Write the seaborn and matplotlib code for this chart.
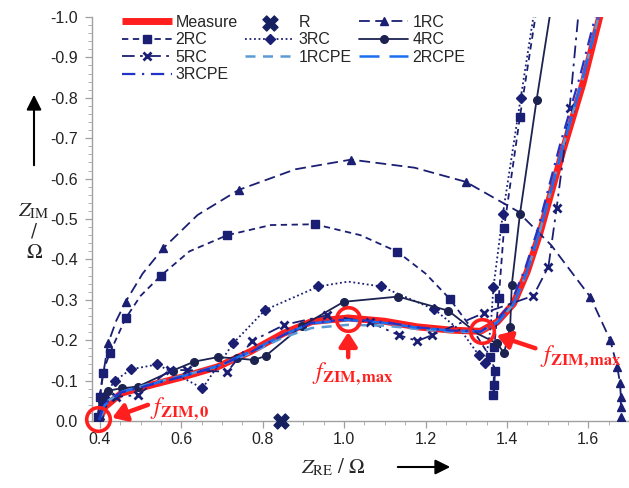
import matplotlib
matplotlib.use("Agg")
import matplotlib.pyplot as plt
import seaborn as sns

# ---------------- data ----------------
measure_x = [0.398, 0.412, 0.453, 0.526, 0.607, 0.689, 0.770, 0.851, 0.920, 1.010, 1.099,
             1.180, 1.262, 1.335, 1.376, 1.416, 1.450, 1.481, 1.538, 1.587, 1.628, 1.640]
measure_y = [-0.003, -0.035, -0.069, -0.089, -0.110, -0.134, -0.172, -0.217, -0.246, -0.255, -0.247,
             -0.233, -0.225, -0.222, -0.245, -0.290, -0.370, -0.465, -0.671, -0.836, -1.000, -1.040]

r_x = [0.845]
r_y = [0.0]

rc1_x = [0.395, 0.400, 0.420, 0.440, 0.463, 0.505, 0.556, 0.640, 0.741, 0.880, 1.017, 1.173, 1.299, 1.425,
         1.509, 1.605, 1.654, 1.671, 1.678, 1.680, 1.680, 1.680]
rc1_y = [-0.010, -0.064, -0.192, -0.248, -0.295, -0.365, -0.428, -0.510, -0.572, -0.623, -0.647, -0.627,
         -0.592, -0.520, -0.435, -0.307, -0.200, -0.134, -0.094, -0.059, -0.035, -0.010]
rc1_mark = [0, 1, 2, 4, 6, 8, 10, 12, 15, 16, 17, 18, 19, 20, 21]

rc2_x = [0.395, 0.400, 0.407, 0.424, 0.463, 0.500, 0.550, 0.620, 0.713, 0.820, 0.928, 1.040, 1.131, 1.200,
         1.259, 1.320, 1.359, 1.371, 1.369, 1.367, 1.369, 1.380, 1.393, 1.432, 1.470]
rc2_y = [-0.010, -0.060, -0.119, -0.168, -0.254, -0.310, -0.360, -0.420, -0.460, -0.485, -0.487, -0.460,
         -0.419, -0.365, -0.303, -0.220, -0.158, -0.125, -0.089, -0.064, -0.184, -0.305, -0.478, -0.753,
         -1.000]
rc2_mark = [0, 1, 2, 3, 4, 6, 8, 10, 12, 14, 16, 17, 18, 19, 20, 21, 22, 23]

rc3_x = [0.398, 0.410, 0.436, 0.476, 0.541, 0.652, 0.728, 0.806, 0.937, 1.010, 1.091, 1.222, 1.290,
         1.331, 1.347, 1.360, 1.367, 1.390, 1.434, 1.465]
rc3_y = [-0.005, -0.060, -0.099, -0.128, -0.140, -0.081, -0.193, -0.275, -0.333, -0.345, -0.333, -0.276,
         -0.220, -0.163, -0.143, -0.230, -0.332, -0.512, -0.800, -1.000]
rc3_mark = [0, 1, 2, 3, 4, 5, 6, 7, 8, 10, 11, 13, 14, 16, 17, 18]

rc4_x = [0.398, 0.405, 0.420, 0.453, 0.493, 0.579, 0.632, 0.689, 0.737, 0.778, 0.807, 0.896,
         0.999, 1.133, 1.256, 1.330, 1.376, 1.393, 1.408, 1.412, 1.432, 1.473, 1.505]
rc4_y = [-0.005, -0.050, -0.075, -0.081, -0.085, -0.125, -0.147, -0.158, -0.155, -0.151, -0.161, -0.235,
         -0.295, -0.308, -0.273, -0.215, -0.192, -0.168, -0.233, -0.337, -0.512, -0.795, -1.000]
rc4_mark = [0, 1, 2, 3, 4, 5, 6, 7, 8, 9, 10, 11, 12, 13, 14, 16, 17, 18, 19, 20, 21]

rc5_x = [0.398, 0.405, 0.440, 0.493, 0.571, 0.615, 0.713, 0.774, 0.853, 0.959, 1.064, 1.136,
         1.180, 1.217, 1.343, 1.465, 1.502, 1.522, 1.554, 1.575]
rc5_y = [-0.005, -0.045, -0.060, -0.064, -0.126, -0.126, -0.122, -0.198, -0.238, -0.262, -0.244, -0.212,
         -0.198, -0.213, -0.267, -0.310, -0.382, -0.526, -0.774, -1.000]
rc5_mark = list(range(19))

rcpe1_x = [0.402, 0.420, 0.453, 0.526, 0.607, 0.689, 0.770, 0.851, 0.920, 1.010, 1.099, 1.180,
           1.262, 1.335, 1.376, 1.416, 1.450, 1.481, 1.538, 1.587, 1.625]
rcpe1_y = [-0.010, -0.050, -0.072, -0.093, -0.113, -0.135, -0.168, -0.207, -0.230, -0.238, -0.236, -0.228,
           -0.221, -0.220, -0.245, -0.288, -0.370, -0.470, -0.680, -0.850, -1.000]

rcpe2_x = [0.398, 0.412, 0.453, 0.526, 0.607, 0.689, 0.770, 0.851, 0.920, 1.010, 1.099, 1.180,
           1.262, 1.335, 1.376, 1.416, 1.450, 1.481, 1.538, 1.587, 1.625]
rcpe2_y = [-0.003, -0.040, -0.072, -0.091, -0.112, -0.136, -0.172, -0.214, -0.242, -0.250, -0.243, -0.231,
           -0.224, -0.222, -0.243, -0.288, -0.372, -0.470, -0.680, -0.850, -1.000]

rcpe3_x = [0.398, 0.410, 0.450, 0.526, 0.607, 0.689, 0.770, 0.851, 0.920, 1.010, 1.099, 1.180,
           1.262, 1.335, 1.372, 1.410, 1.445, 1.475, 1.530, 1.580, 1.617]
rcpe3_y = [-0.003, -0.042, -0.070, -0.090, -0.111, -0.135, -0.170, -0.213, -0.243, -0.252, -0.245, -0.232,
           -0.224, -0.221, -0.245, -0.292, -0.378, -0.472, -0.682, -0.855, -1.000]

x_ticks = [0.4, 0.6, 0.8, 1.0, 1.2, 1.4, 1.6]
y_ticks = [0.0, -0.1, -0.2, -0.3, -0.4, -0.5, -0.6, -0.7, -0.8, -0.9, -1.0]

# annotation anchors
f0_circle = (0.396, -0.004)
fmax1_circle = (1.010, -0.252)
fmax2_circle = (1.339, -0.223)

# ---------------- style ----------------
sns.set_theme(style="white")
plt.rcParams["font.family"] = ["Liberation Sans", "DejaVu Sans"]
plt.rcParams["mathtext.fontset"] = "stix"
plt.rcParams["axes.unicode_minus"] = False

W, H = 629, 488
fig = plt.figure(figsize=(W / 100, H / 100), dpi=100)
ax = fig.add_axes([92 / W, 67 / H, 537 / W, 404 / H])

NAVY = "#1a1f73"
NAVY2 = "#1c2350"
RED = "#ff1f1f"

sns.lineplot(x=measure_x, y=measure_y, sort=False, estimator=None, ax=ax, label="Measure",
             color=RED, linewidth=5.0, zorder=2, solid_capstyle="butt")

def rc(xs, ys, lab, marker, ls, mark, ms=5.5, color=NAVY, lw=1.3):
    sns.lineplot(x=xs, y=ys, sort=False, estimator=None, ax=ax, label=lab, color=color,
                 linewidth=lw, linestyle=ls, marker=marker, markersize=ms, markevery=mark,
                 markeredgecolor=color, markerfacecolor=color, markeredgewidth=1.0, zorder=3)

rc(rc1_x, rc1_y, "1RC", "^", (0, (6, 3)), rc1_mark)
rc(rc2_x, rc2_y, "2RC", "s", (0, (3.5, 2.5)), rc2_mark)
rc(rc3_x, rc3_y, "3RC", "D", (0, (1, 1.5)), rc3_mark, ms=5.5)
rc(rc4_x, rc4_y, "4RC", "o", "-", rc4_mark, color=NAVY2)
rc(rc5_x, rc5_y, "5RC", "x", (0, (7, 3, 1.5, 3)), rc5_mark, ms=6)
ax.get_lines()[-1].set_markeredgewidth(2.0)

sns.lineplot(x=rcpe1_x, y=rcpe1_y, sort=False, estimator=None, ax=ax, label="1RCPE",
             color="#5b9bd5", linewidth=1.8, linestyle=(0, (4, 3)), zorder=4)
sns.lineplot(x=rcpe2_x, y=rcpe2_y, sort=False, estimator=None, ax=ax, label="2RCPE",
             color="#1a6ef0", linewidth=1.8, linestyle=(0, (8, 4)), zorder=4)
sns.lineplot(x=rcpe3_x, y=rcpe3_y, sort=False, estimator=None, ax=ax, label="3RCPE",
             color="#2233c8", linewidth=1.6, linestyle=(0, (6, 3, 1, 3)), zorder=4)

sns.scatterplot(x=r_x, y=r_y, ax=ax, marker="X", s=120, color="#142060", edgecolor="#142060",
                label="R", clip_on=False, zorder=5)

# axes
ax.set_xlim(0.3805, 1.690)
ax.set_ylim(0.0, -1.0)
ax.set_xticks(x_ticks)
ax.set_yticks(y_ticks)
ax.set_xticks([0.40 + 0.05 * i for i in range(27)], minor=True)
ax.set_yticks([-0.02 * i for i in range(51)], minor=True)
ax.set_xticklabels([f"{v:.1f}" for v in x_ticks])
ax.set_yticklabels([f"{v:.1f}" for v in y_ticks])
for s in ["top", "right"]:
    ax.spines[s].set_visible(False)
for s in ["left", "bottom"]:
    ax.spines[s].set_color("#a0a0a0")
    ax.spines[s].set_linewidth(1.0)
ax.tick_params(axis="both", which="major", direction="out", length=5, width=0.9,
               color="#a0a0a0", labelsize=11.5, labelcolor="#222222")
ax.tick_params(axis="both", which="minor", direction="out", length=3, width=0.7, color="#b0b0b0")
ax.tick_params(axis="x", which="both", bottom=True, pad=3)
ax.tick_params(axis="y", which="both", left=True, pad=5)
ax.set_xlabel("")
ax.set_ylabel("")

# legend (row-major order in 3 columns)
handles, labels = ax.get_legend_handles_labels()
hmap = dict(zip(labels, handles))
order = ["Measure", "2RC", "5RC", "3RCPE", "R", "3RC", "1RCPE", "1RC", "4RC", "2RCPE"]
leg = ax.legend([hmap[k] for k in order], order, ncol=3, loc="upper left",
                bbox_to_anchor=(122 / W, 1 - 15 / H), bbox_transform=fig.transFigure,
                frameon=False, fontsize=11.5, handlelength=3.1, handletextpad=0.25,
                columnspacing=0.45, labelspacing=0.15, borderpad=0, borderaxespad=0)

# red annotations
for c in [f0_circle, fmax1_circle, fmax2_circle]:
    ax.plot([c[0]], [c[1]], marker="o", markersize=17, markerfacecolor="none",
            markeredgecolor=RED, markeredgewidth=2.6, clip_on=False, zorder=6)

arrow = dict(arrowstyle="-|>,head_length=0.7,head_width=0.45", color=RED, lw=3.2,
             shrinkA=0, shrinkB=0)
lab0 = r"$\mathit{f}_{\mathbf{ZIM,0}}$"
labm = r"$\mathit{f}_{\mathbf{ZIM,max}}$"
ax.annotate("", xy=(0.430, -0.008), xytext=(0.518, -0.040), arrowprops=arrow, zorder=7,
            annotation_clip=False)
ax.text(0.524, -0.030, lab0, color=RED, fontsize=17, ha="left", va="center")
ax.annotate("", xy=(1.010, -0.220), xytext=(1.010, -0.158), arrowprops=arrow, zorder=7)
ax.text(1.022, -0.118, labm, color=RED, fontsize=17, ha="center", va="center")
ax.annotate("", xy=(1.375, -0.212), xytext=(1.470, -0.180), arrowprops=arrow, zorder=7)
ax.text(1.482, -0.160, labm, color=RED, fontsize=17, ha="left", va="center")

# axis titles with arrows
fig.text(333 / W, 1 - 467 / H, r"$Z_{\mathrm{RE}}$ / $\Omega$", fontsize=15, ha="center",
         va="center", family="STIXGeneral")
fig.add_artist(matplotlib.patches.FancyArrowPatch((395 / W, 1 - 467 / H), (453 / W, 1 - 467 / H),
               transform=fig.transFigure, arrowstyle="-|>,head_length=6,head_width=3",
               color="black", lw=1.5, mutation_scale=1.5))
fig.add_artist(matplotlib.patches.FancyArrowPatch((34 / W, 1 - 168 / H), (34 / W, 1 - 92 / H),
               transform=fig.transFigure, arrowstyle="-|>,head_length=6,head_width=3",
               color="black", lw=1.5, mutation_scale=1.5))
fig.text(34 / W, 1 - 211 / H, r"$Z_{\mathrm{IM}}$", fontsize=15, ha="center", va="center")
fig.text(34 / W, 1 - 231 / H, "/", fontsize=13, ha="center", va="center", family="DejaVu Serif")
fig.text(34 / W, 1 - 253 / H, r"$\Omega$", fontsize=15, ha="center", va="center")

fig.savefig("out.png", dpi=100)
